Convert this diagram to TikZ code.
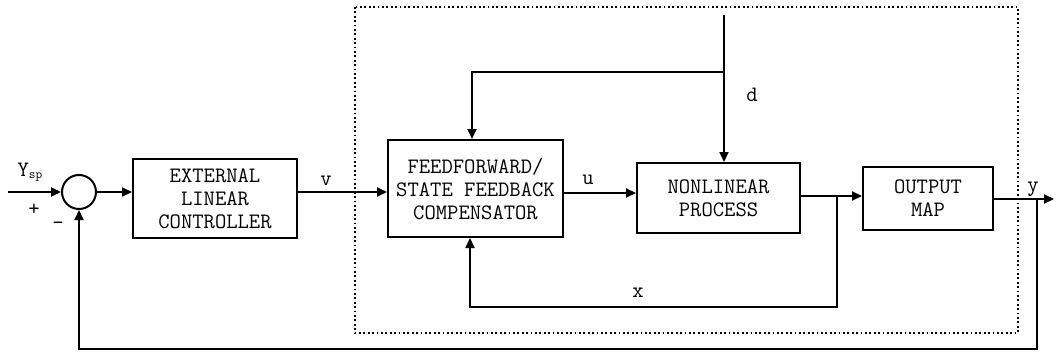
\documentclass[tikz,border=0pt]{standalone}
\usepackage{fontspec}
\usetikzlibrary{arrows.meta}
\begin{document}
\begin{tikzpicture}[x=1pt,y=-1pt,
  blk/.style={draw, line width=2pt, font=\ttfamily\fontsize{22}{23}\selectfont, align=center, inner sep=0pt},
  lbl/.style={font=\ttfamily\fontsize{22}{22}\selectfont, inner sep=0pt},
  conn/.style={line width=2pt},
  arr/.style={conn, -{Triangle[length=10pt,width=9pt]}},
  dotbox/.style={line width=2.2pt, dash pattern=on 1.8pt off 2.6pt}]
\useasboundingbox (0,0) rectangle (1056,353);
% dotted boundary
\draw[dotbox] (355,7) rectangle (1018,333);
% blocks
\node[blk, minimum width=164pt, minimum height=79pt] (ext) at (215,198.5) {EXTERNAL\\LINEAR\\CONTROLLER};
\node[blk, minimum width=175pt, minimum height=97pt] (ff) at (475.5,188.5) {FEEDFORWARD/\\STATE FEEDBACK\\COMPENSATOR};
\node[blk, minimum width=163pt, minimum height=70pt] (nl) at (718.5,198) {NONLINEAR\\PROCESS};
\node[blk, minimum width=130pt, minimum height=63pt] (om) at (928,198.5) {OUTPUT\\MAP};
\node[circle, draw, line width=2pt, minimum size=34pt, inner sep=0pt] (sum) at (79,192) {};
% coordinates
\coordinate (in) at (8,192);
\coordinate (uy) at (0,193);
\coordinate (oy) at (0,196);
\coordinate (bx) at (837,196);
\coordinate (xb) at (837,307);
\coordinate (dtop) at (724,15);
\coordinate (db) at (724,72);
\coordinate (yo) at (1054,199);
\coordinate (fb) at (1037,199);
\coordinate (fbb) at (1037,349);
% connectors
\draw[arr] (in) -- (sum.west);
\draw[arr] (sum.east) -- (sum.east -| ext.west);
\draw[arr] (sum.east -| ext.east) -- (sum.east -| ff.west);
\draw[arr] (ff.east |- uy) -- (nl.west |- uy);
\draw[arr] (nl.east |- oy) -- (om.west |- oy);
\draw[arr] (bx) -- (xb) -| ([xshift=-5.5pt]ff.south);
\draw[arr] (dtop) -- (dtop |- nl.north);
\draw[arr] (db) -| ([xshift=-3.5pt]ff.north);
\draw[arr] (om.east |- yo) -- (yo);
\draw[arr] (fb) -- (fbb) -| (sum.south);
% labels
\node[lbl] (lysp) at (30,172) {Y\raisebox{-2pt}{\fontsize{13}{13}\selectfont sp}};
\node[lbl] (lplus) at (34,210) {+};
\node[lbl] (lminus) at (58,226) {-};
\node[lbl] (lv) at (326,181) {v};
\node[lbl] (lu) at (588,180) {u};
\node[lbl] (ld) at (752,95) {d};
\node[lbl] (lx) at (638,293) {x};
\node[lbl] (ly) at (1033,189) {y};
\end{tikzpicture}
\end{document}
